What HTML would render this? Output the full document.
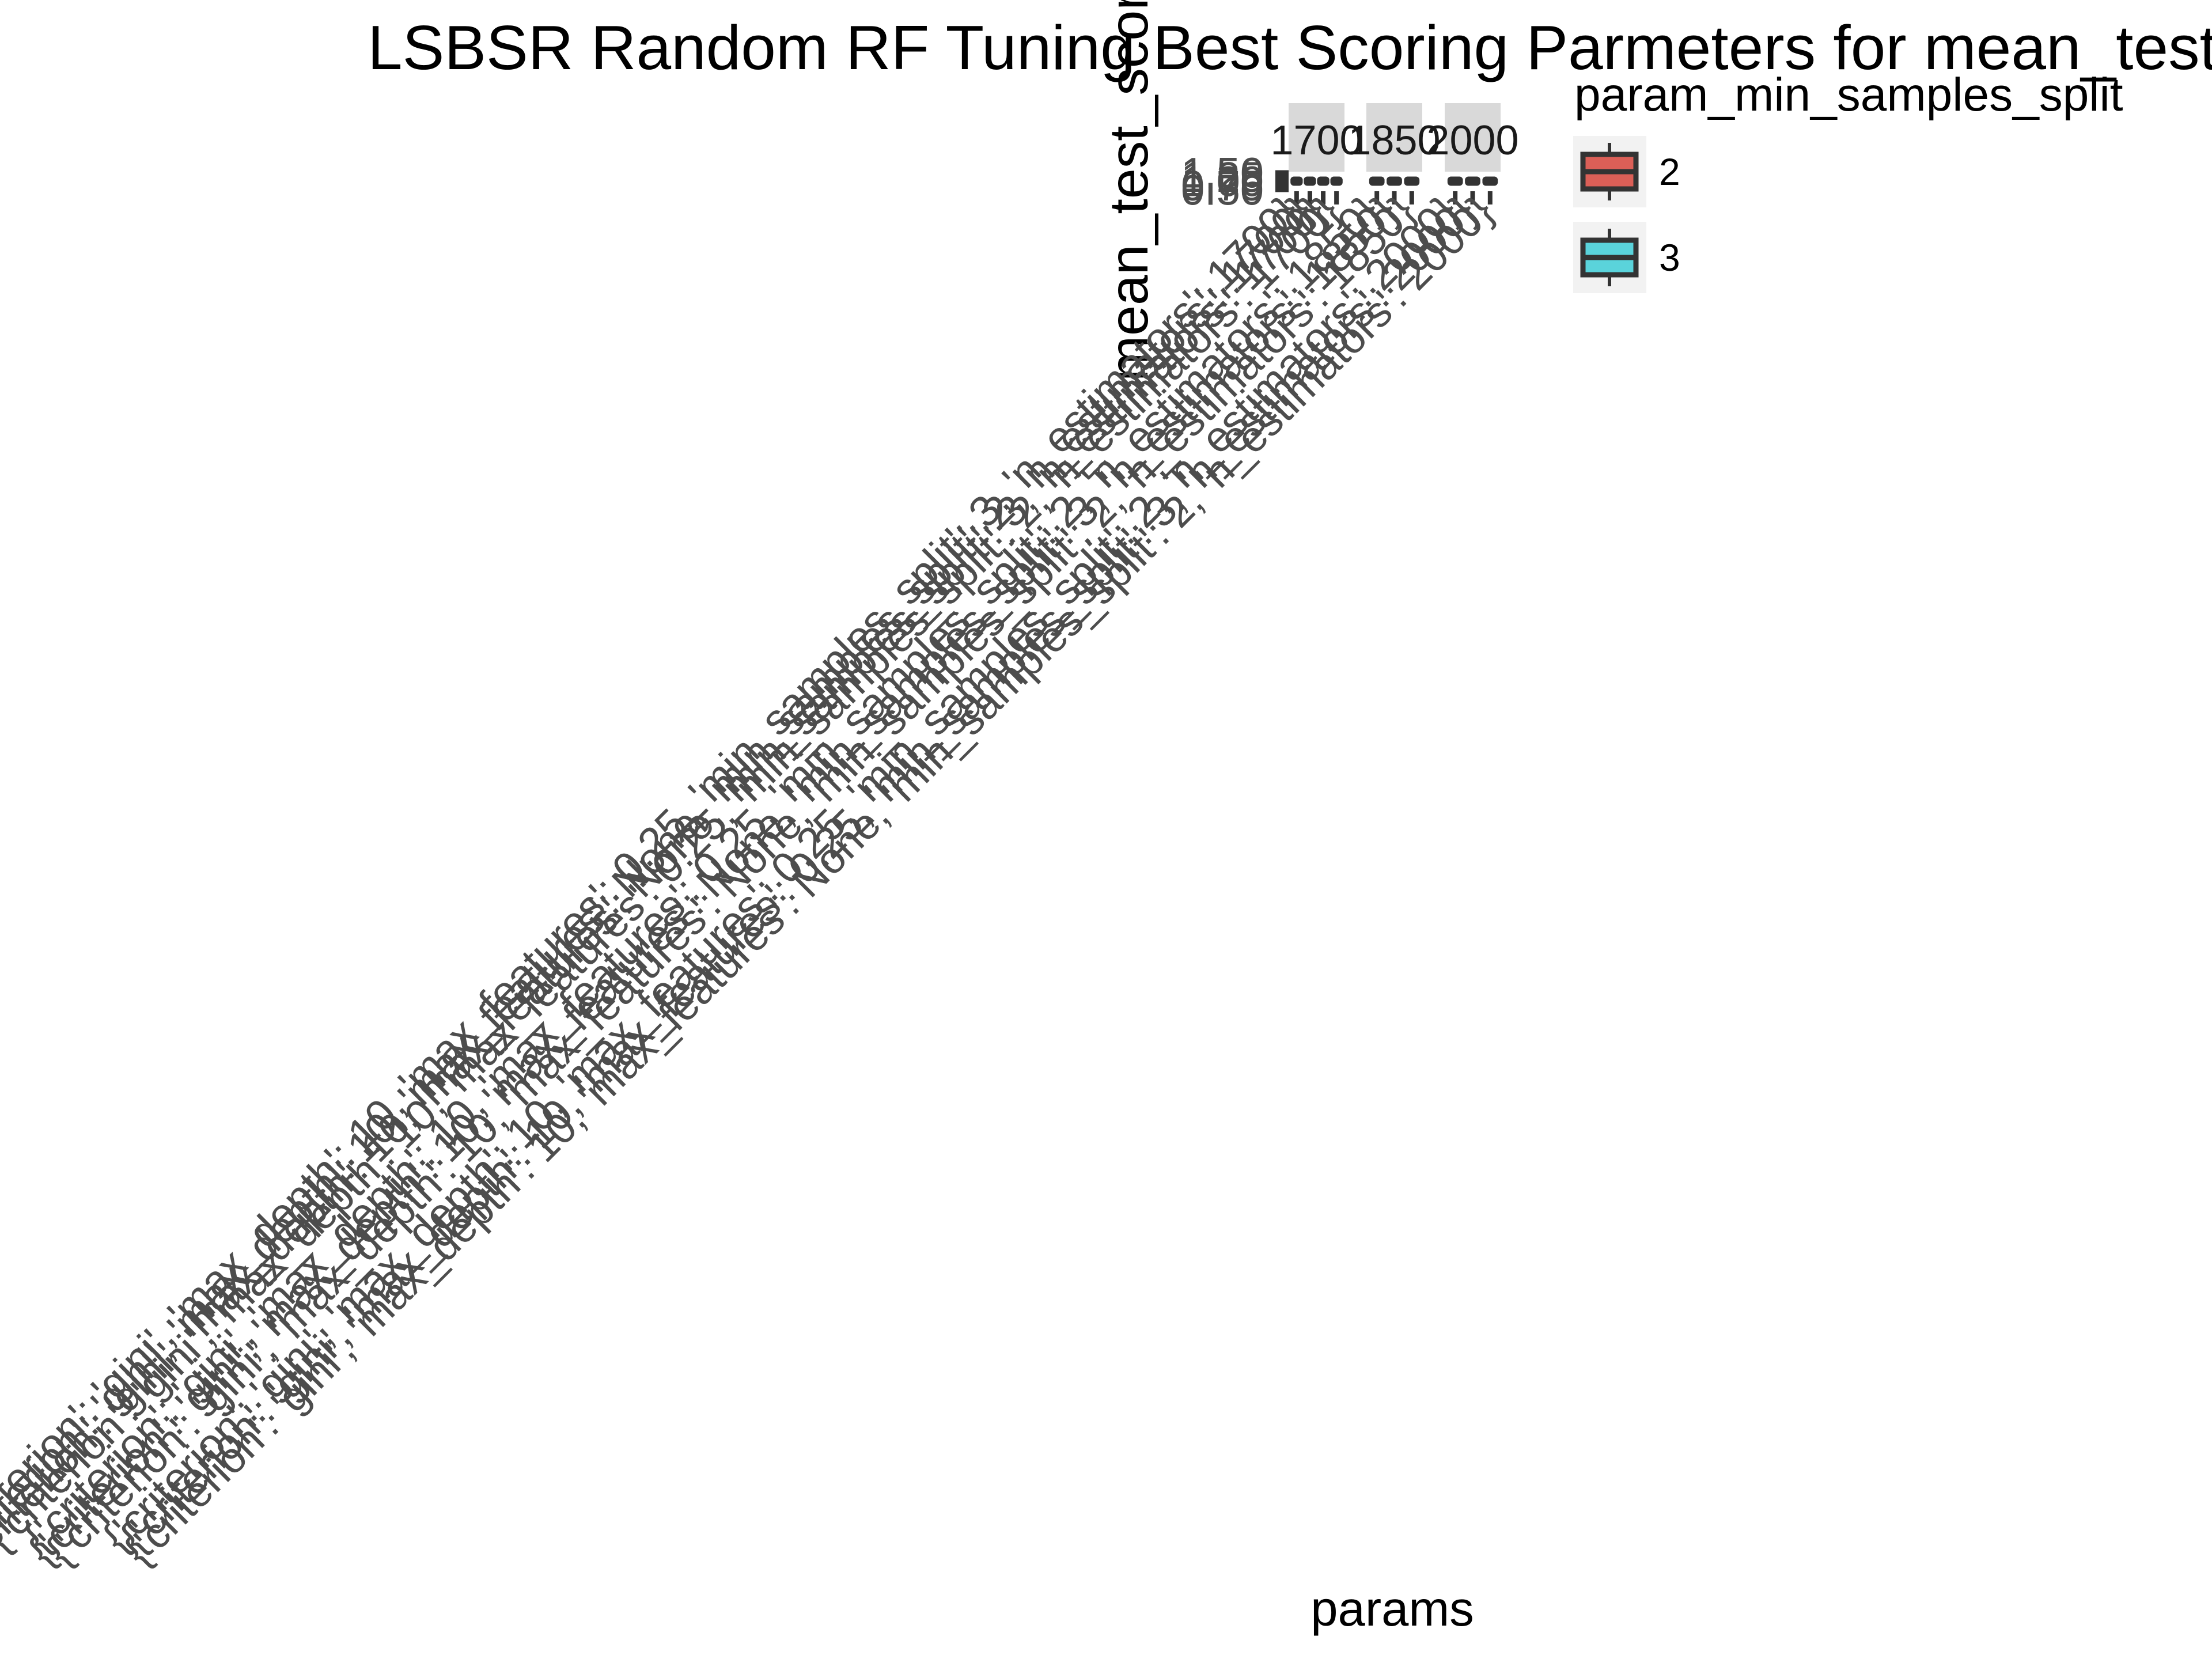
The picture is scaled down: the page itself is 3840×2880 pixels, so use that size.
<!DOCTYPE html>
<html><head><meta charset="utf-8"><style>
html,body{margin:0;padding:0;background:#fff;}
svg{display:block;font-family:"Liberation Sans",sans-serif;}
</style></head><body>
<svg id="chart" width="3840" height="2880" viewBox="0 0 3840 2880" xmlns="http://www.w3.org/2000/svg">
<rect x="0" y="0" width="3840" height="2880" fill="#ffffff"/>
<text x="638" y="120" font-size="109" fill="#000">LSBSR Random RF Tuning Best Scoring Parmeters for mean_test_score</text>
<text transform="translate(1992,662) rotate(-90)" font-size="95" fill="#000">mean_test_score</text>
<text x="2417" y="2822" font-size="85" text-anchor="middle" fill="#000">params</text>
<g id="panels"></g>
<g id="yaxis"></g>
<g id="legend">
<text x="2733" y="192" font-size="82" fill="#000">param_min_samples_split</text>
</g>
</svg>
<script>
const facets = ["1700", "1850", "2000"];
const facetSplits = [[3, 2, 3, 2], [2, 3, 2], [2, 3, 2]];
const facetFeatures = [["0.25", "None", "None", "0.25"], ["0.25", "None", "None"], ["0.25", "0.25", "None"]];
const facetValues = [[1.0, 1.0, 1.0, 1.0], [1.0, 1.0, 1.0], [1.0, 1.0, 1.0]];
const yTicks = [0.5, 0.75, 1.0, 1.25, 1.5];
const yTickLabels = ["0.50", "0.75", "1.00", "1.25", "1.50"];
const legendLevels = ["2", "3"];

const NS = "http://www.w3.org/2000/svg";
const fills = {"2": "#DB5F57", "3": "#5AD3DB"};
const panelLeft = [2237, 2372, 2508];
const panelW = 97;
const panelTop = 298, panelBot = 331;
const yMin = 0.45, yMax = 1.55;
function yScale(v){ return panelBot - (v - yMin) / (yMax - yMin) * (panelBot - panelTop); }
function xScale(p, i, n){ const lo = 0.4, hi = n + 0.6; return panelLeft[p] + ((i + 1) - lo) / (hi - lo) * panelW; }
function mk(tag, attrs, parent){ const e = document.createElementNS(NS, tag); for (const k in attrs) e.setAttribute(k, attrs[k]); parent.appendChild(e); return e; }

const panels = document.getElementById('panels');
facets.forEach((f, p) => {
  const strip = mk('rect', {x: panelLeft[p], y: 179, width: panelW, height: 119, fill: '#d9d9d9'}, panels);
  
  
  const st = mk('text', {x: panelLeft[p] + panelW / 2, y: 268, 'font-size': 72, 'text-anchor': 'middle', fill: '#1a1a1a'}, panels);
  st.textContent = f;
  
  
  const n = facetValues[p].length;
  const bw = 0.75 * panelW / (n + 0.2);
  facetValues[p].forEach((v, i) => {
    const cx = xScale(p, i, n);
    const cy = yScale(v);
    const split = String(facetSplits[p][i]);
    const box = mk('rect', {x: cx - bw / 2 + 2, y: cy - 4, width: bw - 4, height: 8, fill: '#333', stroke: '#333', 'stroke-width': 8, rx: 2}, panels);
    
    
    const tk = mk('line', {x1: cx, x2: cx, y1: 332, y2: 355, stroke: '#333', 'stroke-width': 8}, panels);
    
    
    const label = "{'criterion': 'gini', 'max_depth': 10, 'max_features': " + facetFeatures[p][i] + ", 'min_samples_split': " + split + ", 'n_estimators': " + f + "}";
    const t = mk('text', {transform: 'translate(' + (cx + 10) + ',372) rotate(-45)', 'font-size': 75, 'text-anchor': 'end', fill: '#4d4d4d'}, panels);
    t.textContent = label;
    
    
  });
});

const yaxis = document.getElementById('yaxis');
yTicks.forEach((v, i) => {
  const y = yScale(v);
  const tl = mk('line', {x1: 2214, x2: 2237, y1: y, y2: y, stroke: '#333', 'stroke-width': 8}, yaxis);
  
  
  const tt = mk('text', {x: 2194, y: y + 26, 'font-size': 74, 'text-anchor': 'end', fill: '#4d4d4d'}, yaxis);
  tt.textContent = yTickLabels[i];
  
  
});

const legend = document.getElementById('legend');
legendLevels.forEach((lv, i) => {
  const top = 236 + i * 149;
  const g = mk('g', {}, legend);
  
  
  mk('rect', {x: 2731, y: top, width: 127, height: 124, fill: '#f2f2f2'}, g);
  mk('line', {x1: 2794, x2: 2794, y1: top + 12, y2: top + 112, stroke: '#333', 'stroke-width': 6}, g);
  mk('rect', {x: 2748, y: top + 32, width: 92, height: 60, fill: fills[lv], stroke: '#333', 'stroke-width': 9}, g);
  mk('line', {x1: 2748, x2: 2840, y1: top + 62, y2: top + 62, stroke: '#333', 'stroke-width': 9}, g);
  const lt = mk('text', {x: 2880, y: top + 85, 'font-size': 66, fill: '#000'}, g);
  lt.textContent = lv;
  
  
});
</script>
</body></html>
